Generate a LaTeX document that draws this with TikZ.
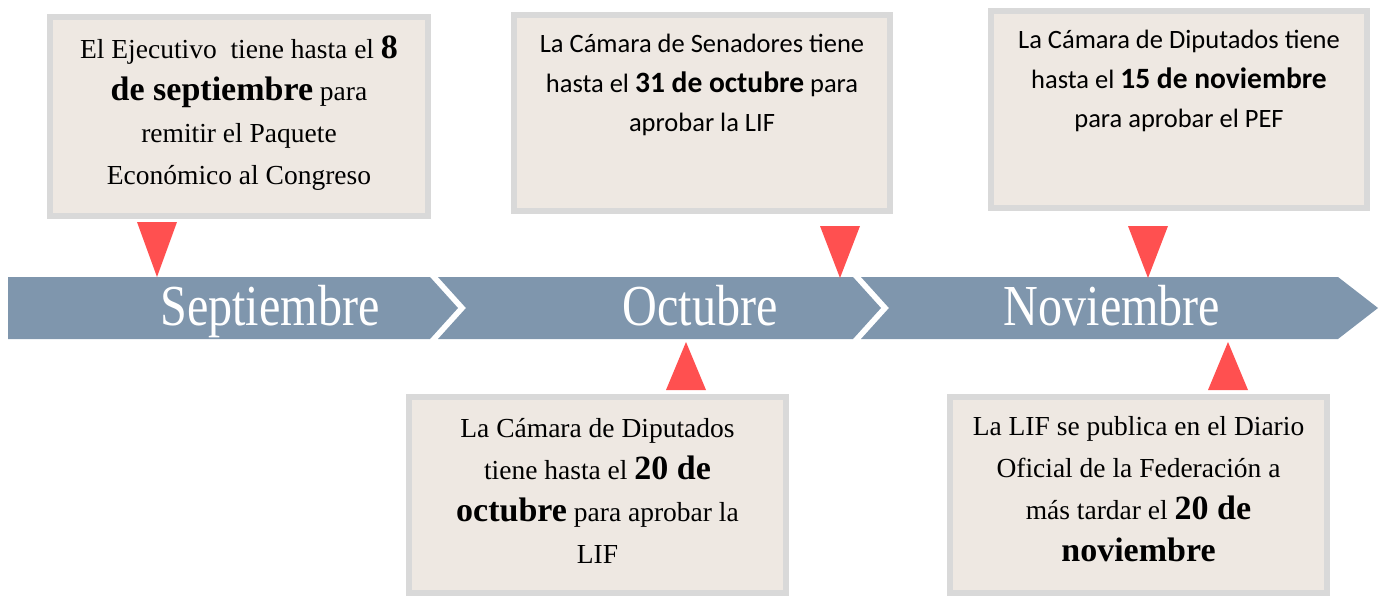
\documentclass[tikz,border=0pt]{standalone}
\usepackage{fontspec}
\setmainfont{Liberation Serif}
\newfontfamily\calibri{Carlito}

\definecolor{banda}{HTML}{7F96AD}
\definecolor{borde}{HTML}{D9D9D9}
\definecolor{fondo}{HTML}{EEE8E2}
\definecolor{rojo}{HTML}{FF5050}

\newcommand{\fecha}[1]{{\fontsize{34}{42}\selectfont\bfseries #1}}
\newcommand{\fechasans}[1]{{\fontsize{29.5}{40}\selectfont\bfseries #1}}

\begin{document}
\begin{tikzpicture}[x=1pt,y=-1pt,
	caja/.style={rectangle,draw=borde,fill=fondo,line width=6pt,minimum width=377pt,minimum height=197pt,inner sep=0pt},
	serif/.style={align=center,font=\fontsize{27.5}{42}\selectfont},
	sans/.style={align=center,font=\calibri\fontsize{26.5}{39.5}\selectfont},
	mes/.style={text=white,anchor=base,font=\fontsize{58}{58}\selectfont,xscale=0.83},
	marca/.style={fill=rojo}]

	\useasboundingbox (0,0) rectangle (1383,596);

	% banda de meses
	\fill[banda] (8,277) -- (430,277) -- (458,308) -- (430,339) -- (8,339) -- cycle;
	\fill[banda] (438,277) -- (853,277) -- (881,308) -- (853,339) -- (438,339) -- (466,308) -- cycle;
	\fill[banda] (861,277) -- (1338,277) -- (1378,308) -- (1338,339) -- (861,339) -- (889,308) -- cycle;

	\node[mes] (sep) at (270,325) {Septiembre};
	\node[mes] (oct) at (700,325) {Octubre};
	\node[mes] (nov) at (1112,325) {Noviembre};

	% cajas
	\node[caja,minimum width=378pt,minimum height=199pt] (ejec) at (239,116.5) {};
	\node[caja,minimum width=376pt,minimum height=196pt] (sen) at (702,113) {};
	\node[caja,minimum width=376pt] (dipP) at (1179,109.5) {};
	\node[caja,minimum height=196pt] (dipL) at (597.5,495) {};
	\node[caja,minimum height=196pt] (pub) at (1138.5,495) {};

	\node[serif] (tejec) at ([yshift=3pt]ejec.center) {El Ejecutivo\ \ tiene hasta el \fecha{8}\\ \fecha{de septiembre} para\\ remitir el Paquete\\ Económico al Congreso};
	\node[sans] (tsen) at ([yshift=28pt]sen.center) {La Cámara de Senadores tiene\\ hasta el \fechasans{31 de octubre} para\\ aprobar la LIF};
	\node[sans] (tdipP) at ([yshift=28.5pt]dipP.center) {La Cámara de Diputados tiene\\ hasta el \fechasans{15 de noviembre}\\ para aprobar el PEF};
	\node[serif] (tdipL) at ([yshift=4pt]dipL.center) {La Cámara de Diputados\\ tiene hasta el \fecha{20 de}\\ \fecha{octubre} para aprobar la\\ LIF};
	\node[serif] (tpub) at ([yshift=6pt]pub.center) {La LIF se publica en el Diario\\ Oficial de la Federación a\\ más tardar el \fecha{20 de}\\ \fecha{noviembre}};

	% marcas
	\fill[marca] (137,222) -- (177,222) -- (157,277) -- cycle;
	\fill[marca] (820,226) -- (860,226) -- (840,278) -- cycle;
	\fill[marca] (1128,226) -- (1168,226) -- (1148,278) -- cycle;
	\fill[marca] (666,390) -- (706,390) -- (686,342) -- cycle;
	\fill[marca] (1208,390) -- (1248,390) -- (1228,342) -- cycle;

\end{tikzpicture}
\end{document}
